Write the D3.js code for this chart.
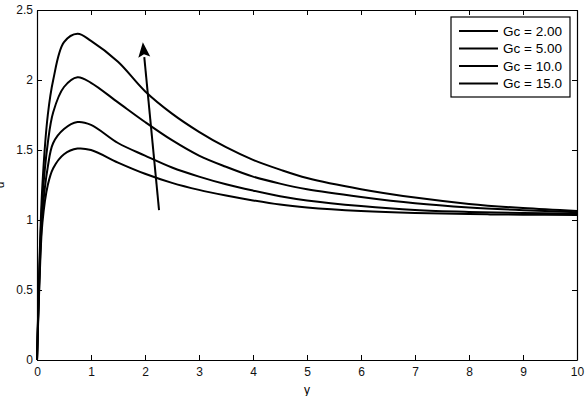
<!DOCTYPE html>
<html>
<head>
<meta charset="utf-8">
<script src="https://cdn.jsdelivr.net/npm/d3@7"></script>
<style>
    body { margin: 0; background: #fff; }
    svg text { font-family: "Liberation Sans", Arial, sans-serif; }
</style>
</head>
<body>
<div id="chart"></div>
<script>

// x positions where the curves were read
const xs = [0, 0.05, 0.1, 0.2, 0.3, 0.5, 0.75, 1, 1.5, 2, 2.5, 3, 3.5, 4, 4.5, 5, 6, 7, 8, 9, 10];

// one curve per Gc value
const gc2 = [0, 0.6, 0.98, 1.25, 1.37, 1.47, 1.51, 1.50, 1.41, 1.33, 1.265, 1.215, 1.175, 1.14, 1.11, 1.09, 1.065, 1.05, 1.042, 1.038, 1.035];
const gc5 = [0, 0.65, 1.05, 1.38, 1.55, 1.65, 1.70, 1.68, 1.55, 1.46, 1.375, 1.31, 1.255, 1.21, 1.17, 1.14, 1.10, 1.072, 1.058, 1.05, 1.045];
const gc10 = [0, 0.7, 1.15, 1.55, 1.77, 1.95, 2.02, 1.98, 1.84, 1.70, 1.57, 1.46, 1.38, 1.31, 1.26, 1.22, 1.165, 1.12, 1.09, 1.07, 1.055];
const gc15 = [0, 0.75, 1.25, 1.75, 2.0, 2.27, 2.33, 2.28, 2.13, 1.92, 1.76, 1.63, 1.52, 1.43, 1.36, 1.30, 1.22, 1.16, 1.115, 1.085, 1.065];

const legendLabels = ["Gc = 2.00", "Gc = 5.00", "Gc = 10.0", "Gc = 15.0"];
const xTicks = [0, 1, 2, 3, 4, 5, 6, 7, 8, 9, 10];
const yTicks = [0, 0.5, 1, 1.5, 2, 2.5];

// arrow showing increasing Gc (data coords)
const arrowFrom = [2.26, 1.07];
const arrowTo = [1.96, 2.27];

const width = 587, height = 396;
const margin = {top: 10, right: 10, bottom: 36, left: 37};

const svg = d3.select("#chart").append("svg")
    .attr("width", width)
    .attr("height", height);

const x = d3.scaleLinear().domain([0, 10]).range([margin.left, width - margin.right]);
const y = d3.scaleLinear().domain([0, 2.5]).range([height - margin.bottom, margin.top]);

// axes, ticks pointing inward like matlab
svg.append("g")
    .attr("transform", `translate(0,${y(0)})`)
    .call(d3.axisBottom(x).tickValues(xTicks).tickSizeInner(-5).tickSizeOuter(0).tickPadding(7).tickFormat(d3.format("")));
svg.append("g")
    .attr("transform", `translate(0,${y(2.5)})`)
    .call(d3.axisTop(x).tickValues(xTicks).tickSizeInner(-5).tickSizeOuter(0).tickFormat(""));
svg.append("g")
    .attr("transform", `translate(${x(0)},0)`)
    .call(d3.axisLeft(y).tickValues(yTicks).tickSizeInner(-5).tickSizeOuter(0).tickPadding(4).tickFormat(d3.format("")));
svg.append("g")
    .attr("transform", `translate(${x(10)},0)`)
    .call(d3.axisRight(y).tickValues(yTicks).tickSizeInner(-5).tickSizeOuter(0).tickFormat(""));

svg.selectAll(".domain").attr("stroke", "#000").attr("stroke-width", 1.2);
svg.selectAll(".tick line").attr("stroke", "#000");
svg.selectAll(".tick text").attr("font-size", 12).attr("fill", "#111");

// axis titles
svg.append("text")
    .attr("x", x(5))
    .attr("y", height - 2)
    .attr("text-anchor", "middle")
    .attr("font-size", 12)
    .text("y");
svg.append("text")
    .attr("transform", `translate(4,${y(1.25)}) rotate(-90)`)
    .attr("text-anchor", "middle")
    .attr("font-size", 12)
    .text("u");

// curves
const line = d3.line()
    .x((d, i) => x(xs[i]))
    .y(d => y(d))
    .curve(d3.curveCatmullRom.alpha(0.5));

svg.append("g")
    .selectAll("path")
    .data([gc2, gc5, gc10, gc15])
    .join("path")
    .attr("d", line)
    .attr("fill", "none")
    .attr("stroke", "#000")
    .attr("stroke-width", 2);

// arrow
const ax1 = x(arrowFrom[0]), ay1 = y(arrowFrom[1]);
const ax2 = x(arrowTo[0]), ay2 = y(arrowTo[1]);
const ang = Math.atan2(ay2 - ay1, ax2 - ax1);
const headLen = 15, headW = 6;
const bx = ax2 - headLen * Math.cos(ang), by = ay2 - headLen * Math.sin(ang);
svg.append("line")
    .attr("x1", ax1).attr("y1", ay1)
    .attr("x2", bx).attr("y2", by)
    .attr("stroke", "#000")
    .attr("stroke-width", 2);
svg.append("path")
    .attr("d", `M${ax2},${ay2}L${bx + headW * Math.sin(ang)},${by - headW * Math.cos(ang)}L${bx + 3 * Math.cos(ang)},${by + 3 * Math.sin(ang)}L${bx - headW * Math.sin(ang)},${by + headW * Math.cos(ang)}Z`)
    .attr("fill", "#000");

// legend
const legend = svg.append("g").attr("transform", "translate(451,17)");
legend.append("rect")
    .attr("width", 119)
    .attr("height", 80)
    .attr("fill", "#fff")
    .attr("stroke", "#000")
    .attr("stroke-width", 1.2);
const items = legend.selectAll("g")
    .data(legendLabels)
    .join("g")
    .attr("transform", (d, i) => `translate(0,${14 + i * 17.5})`);
items.append("line")
    .attr("x1", 8).attr("x2", 47)
    .attr("stroke", "#000")
    .attr("stroke-width", 2);
items.append("text")
    .attr("x", 52)
    .attr("dy", "0.35em")
    .attr("font-size", 13.5)
    .text(d => d);

</script>
</body>
</html>
